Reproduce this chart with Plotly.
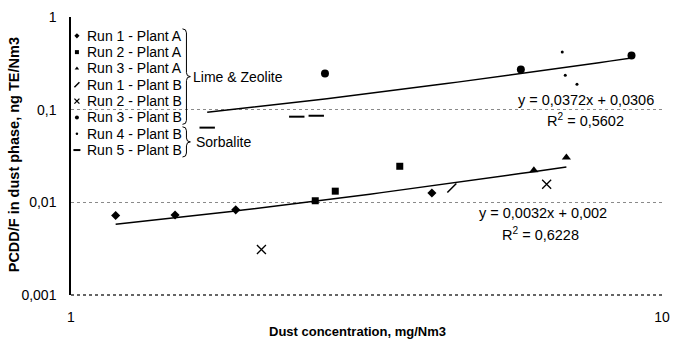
import numpy as np
import plotly.graph_objects as go

# ---------------- data ----------------
series_names = ["Run 1 - Plant A", "Run 2 - Plant A", "Run 3 - Plant A",
                "Run 1 - Plant B", "Run 2 - Plant B", "Run 3 - Plant B",
                "Run 4 - Plant B", "Run 5 - Plant B"]

run1_a_x = [1.19, 1.50, 1.90, 4.08]
run1_a_y = [0.0072, 0.0073, 0.0083, 0.0126]
run2_a_x = [2.59, 2.80, 3.60]
run2_a_y = [0.0104, 0.0132, 0.0245]
run3_a_x = [6.07, 6.89]
run3_a_y = [0.0222, 0.0305]
run1_b_x = [4.41]
run1_b_y = [0.0143]
run2_b_x = [2.10, 6.38]
run2_b_y = [0.0031, 0.0157]
run3_b_x = [2.69, 5.77, 8.88]
run3_b_y = [0.246, 0.272, 0.384]
run4_b_x = [6.78, 6.86, 7.18]
run4_b_y = [0.42, 0.235, 0.188]
run5_b_x = [1.70, 2.41, 2.60]
run5_b_y = [0.064, 0.084, 0.086]

upper_slope, upper_intercept = 0.0372, 0.0306
lower_slope, lower_intercept = 0.0032, 0.002
upper_eq = "y = 0,0372x + 0,0306"
upper_r2 = "R<sup>2</sup> = 0,5602"
lower_eq = "y = 0,0032x + 0,002"
lower_r2 = "R<sup>2</sup> = 0,6228"

group_labels = ["Lime & Zeolite", "Sorbalite"]

x_tick_vals = [1, 10]
x_tick_text = ["1", "10"]
y_tick_vals = [0.001, 0.01, 0.1, 1]
y_tick_text = ["0,001", "0,01", "0,1", "1"]

x_title = "Dust concentration, mg/Nm3"
y_title = "PCDD/F in dust phase, ng TE/Nm3"

# ---------------- styles ----------------
FONT = "Liberation Sans, Arial, sans-serif"
W, H = 679, 344
PL, PR, PT, PB = 71, 670, 14, 295  # plot area in pixels

styles = [
    dict(symbol="diamond", size=7, color="black"),
    dict(symbol="square", size=7, color="black"),
    dict(symbol="triangle-up", size=8, color="black"),
    dict(symbol="line-ne", size=9, color="black", line=dict(width=1.5, color="black")),
    dict(symbol="x-thin", size=9, color="black", line=dict(width=1.3, color="black")),
    dict(symbol="circle", size=8, color="black"),
    dict(symbol="circle", size=3, color="black"),
    dict(symbol="line-ew", size=11, color="black", line=dict(width=2, color="black")),
]
series_x = [run1_a_x, run2_a_x, run3_a_x, run1_b_x, run2_b_x, run3_b_x, run4_b_x, run5_b_x]
series_y = [run1_a_y, run2_a_y, run3_a_y, run1_b_y, run2_b_y, run3_b_y, run4_b_y, run5_b_y]

fig = go.Figure()

# trendlines (from the displayed equations), over each group's x range
lower_xs = run1_a_x + run2_a_x + run3_a_x + run1_b_x + run2_b_x
upper_xs = run3_b_x + run4_b_x + run5_b_x
for xs, a, b in [(lower_xs, lower_slope, lower_intercept), (upper_xs, upper_slope, upper_intercept)]:
    tx = np.geomspace(min(xs), max(xs), 40)
    fig.add_trace(go.Scatter(x=tx, y=a * tx + b, mode="lines",
                             line=dict(color="black", width=1.5),
                             showlegend=False, hoverinfo="skip"))

for name, xs, ys, st in zip(series_names, series_x, series_y, styles):
    fig.add_trace(go.Scatter(x=xs, y=ys, mode="markers", name=name,
                             marker=st, showlegend=False))

# ---------- hand-drawn legend (overlay pixel axes) ----------
leg_x, leg_y0, leg_dy = 77, 33, 16.5
leg_text_x = 85
legend_styles = []
for st in styles:
    s = dict(st)
    s["size"] = 4 if st["symbol"] not in ("line-ew", "line-ne", "x-thin") else 5
    if st["symbol"] == "circle" and st["size"] < 5:
        s["size"] = 2.5
    legend_styles.append(s)

for i, (name, st) in enumerate(zip(series_names, legend_styles)):
    yy = leg_y0 + i * leg_dy
    fig.add_trace(go.Scatter(x=[leg_x], y=[yy], mode="markers", marker=st,
                             xaxis="x2", yaxis="y2", showlegend=False, hoverinfo="skip"))

annotations = []
for i, name in enumerate(series_names):
    annotations.append(dict(x=leg_text_x, y=leg_y0 + i * leg_dy, xref="x2", yref="y2",
                            text=name, showarrow=False, xanchor="left", yanchor="middle",
                            font=dict(family=FONT, size=14, color="black")))

def brace(top, bot, xe, xs, xt):
    mid = (top + bot) / 2
    return (f"M {xe},{top} Q {xs},{top} {xs},{top+4} L {xs},{mid-4} "
            f"Q {xs},{mid} {xt},{mid} Q {xs},{mid} {xs},{mid+4} "
            f"L {xs},{bot-4} Q {xs},{bot} {xe},{bot}")

b1_top, b1_bot = leg_y0 - 7, leg_y0 + 5 * leg_dy + 7
b2_top, b2_bot = leg_y0 + 6 * leg_dy - 7, leg_y0 + 7 * leg_dy + 7
shapes = [
    dict(type="path", xref="x2", yref="y2", path=brace(b1_top, b1_bot, 184, 188, 192),
         line=dict(color="black", width=1)),
    dict(type="path", xref="x2", yref="y2", path=brace(b2_top, b2_bot, 184, 188, 192),
         line=dict(color="black", width=1)),
    dict(type="line", xref="x domain", yref="y domain", x0=0, x1=1, y0=0, y1=0,
         line=dict(color="#333333", width=1.5, dash="dot")),
]
annotations.append(dict(x=193, y=(b1_top + b1_bot) / 2, xref="x2", yref="y2", text=group_labels[0],
                        showarrow=False, xanchor="left", yanchor="middle",
                        font=dict(family=FONT, size=14, color="black")))
annotations.append(dict(x=196, y=(b2_top + b2_bot) / 2, xref="x2", yref="y2", text=group_labels[1],
                        showarrow=False, xanchor="left", yanchor="middle",
                        font=dict(family=FONT, size=14, color="black")))

# equations
for txt, cx, cy in [(upper_eq, 593, 98), (upper_r2, 592, 118), (lower_eq, 549, 212), (lower_r2, 547, 233)]:
    annotations.append(dict(x=cx, y=cy, xref="x2", yref="y2", text=txt, showarrow=False,
                            xanchor="center", yanchor="middle",
                            font=dict(family=FONT, size=14.5, color="black")))

def px2paper(px, py):
    return (px - PL) / (PR - PL), (PB - py) / (PB - PT)

xt_x, xt_y = px2paper(361, 332)
annotations.append(dict(x=xt_x, y=xt_y, xref="paper", yref="paper", text=f"<b>{x_title}</b>",
                        showarrow=False, xanchor="center", yanchor="middle",
                        font=dict(family=FONT, size=13, color="black")))
yt_x, yt_y = px2paper(13, 153)
annotations.append(dict(x=yt_x, y=yt_y, xref="paper", yref="paper", text=f"<b>{y_title}</b>",
                        showarrow=False, xanchor="center", yanchor="middle", textangle=-90,
                        font=dict(family=FONT, size=14.5, color="black")))

fig.update_layout(
    width=W, height=H,
    margin=dict(l=PL, r=W - PR, t=PT, b=H - PB),
    plot_bgcolor="white", paper_bgcolor="white",
    showlegend=False,
    font=dict(family=FONT, color="black"),
    xaxis=dict(type="log", range=[0, 1], tickvals=x_tick_vals, ticktext=x_tick_text,
               showgrid=False, showline=False, zeroline=False, ticks="",
               ticklabelstandoff=12, tickfont=dict(family=FONT, size=14, color="black")),
    yaxis=dict(type="log", range=[-3, 0], tickvals=y_tick_vals, ticktext=y_tick_text,
               showgrid=True, gridcolor="#8a8a8a", griddash="dot", gridwidth=1,
               showline=True, linecolor="black", linewidth=1.5, zeroline=False,
               ticks="", ticklabelstandoff=10,
               tickfont=dict(family=FONT, size=14, color="black")),
    xaxis2=dict(overlaying="x", range=[PL, PR], visible=False, anchor="y2"),
    yaxis2=dict(overlaying="y", range=[PB, PT], visible=False, anchor="x2"),
    shapes=shapes,
    annotations=annotations,
)

fig.write_html("out.html", config={"displayModeBar": False},
               post_script="document.body.style.margin='0';document.body.style.padding='0';document.body.style.overflow='hidden';")
